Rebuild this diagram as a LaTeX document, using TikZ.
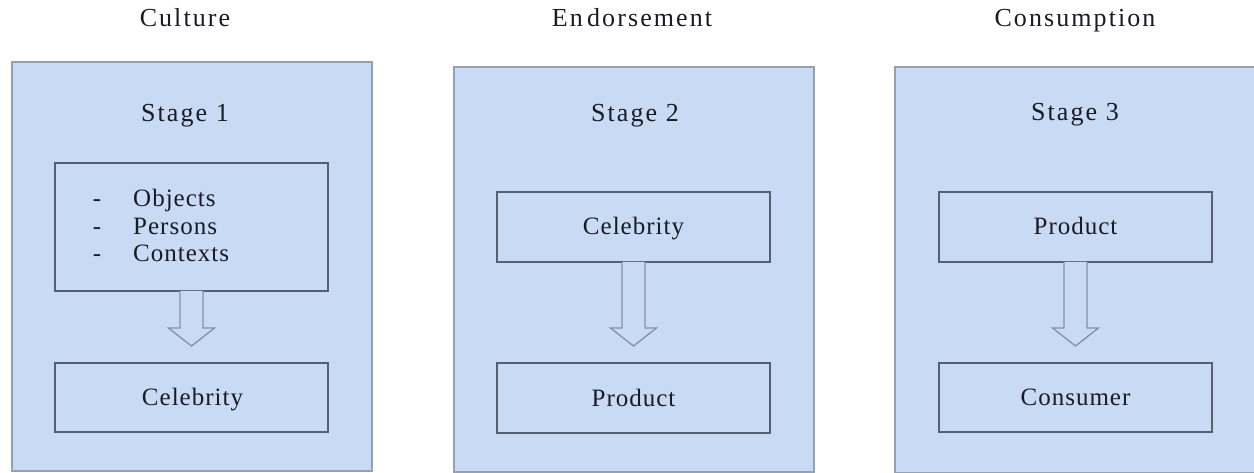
\documentclass[tikz,border=0pt]{standalone}
\usepackage{fontspec}
\setmainfont{Liberation Serif}[LetterSpace=4]
\usetikzlibrary{calc}
\definecolor{panelfill}{RGB}{201,218,245}
\definecolor{panelline}{RGB}{150,160,175}
\definecolor{boxline}{RGB}{85,96,115}
\definecolor{arrowline}{RGB}{130,145,170}
\definecolor{ink}{RGB}{25,28,38}
\begin{document}
\begin{tikzpicture}[x=1pt,y=-1pt,
  txt/.style={text=ink,font=\fontsize{25}{30}\selectfont,inner sep=0pt,anchor=base},
  title/.style={text=ink,font=\fontsize{26}{30}\selectfont\addfontfeatures{LetterSpace=8},inner sep=0pt,anchor=base},
  panel/.style={draw=panelline,line width=1.3pt,fill=panelfill,inner sep=0pt,outer sep=0pt,anchor=north west},
  stagebox/.style={draw=boxline,line width=1.3pt,fill=panelfill,inner sep=0pt,outer sep=0pt,anchor=north west,minimum width=273pt},
  blockarrow/.style={draw=arrowline,line width=1.3pt,fill=panelfill,line join=miter}
]
\useasboundingbox (0,0) rectangle (1254,473);
\fill[white] (0,0) rectangle (1254,473);

% titles
\node[title] (t1) at (185,27) {Culture};
\node[title] (t2) at (632,27) {En\,dorsement};
\node[title] (t3) at (1075,27) {Consumption};

% panels
\node[panel,minimum width=360pt,minimum height=409pt] (p1) at (12,62) {};
\node[panel,minimum width=360pt,minimum height=405pt] (p2) at (454,67) {};
\node[panel,minimum width=372pt,minimum height=406pt] (p3) at (895,67) {};

\node[title] (s1) at (185,122) {Stage 1};
\node[title] (s2) at (635,122) {Stage 2};
\node[title] (s3) at (1075,121) {Stage 3};

% stage 1
\node[stagebox,minimum height=128pt] (a1) at (55,163) {};
\node[txt] (d1) at (97,207) {-};
\node[txt] (d2) at (97,235) {-};
\node[txt] (d3) at (97,262) {-};
\node[txt,anchor=base west] (l1) at (133,207) {Objects};
\node[txt,anchor=base west] (l2) at (133,235) {Persons};
\node[txt,anchor=base west] (l3) at (133,262) {Contexts};
\node[stagebox,minimum height=69pt] (b1) at (55,363) {};
\node[txt] (b1t) at ($(b1.center)+(1,8)$) {Celebrity};

% stage 2
\node[stagebox,minimum height=70pt] (a2) at (497,192) {};
\node[txt] (a2t) at ($(a2.center)+(0,8)$) {Celebrity};
\node[stagebox,minimum height=70pt] (b2) at (497,363) {};
\node[txt] (b2t) at ($(b2.center)+(0,8)$) {Product};

% stage 3
\node[stagebox,minimum height=70pt] (a3) at (939,192) {};
\node[txt] (a3t) at ($(a3.center)+(0,8)$) {Product};
\node[stagebox,minimum height=69pt] (b3) at (939,363) {};
\node[txt] (b3t) at ($(b3.center)+(0,8)$) {Consumer};

% block arrows
\foreach \u/\v in {a1/b1,a2/b2,a3/b3}{
  \draw[blockarrow]
    ($(\u.south)+(-11.5,0)$) -- ($(\v.north)+(-11.5,-35)$) -- ($(\v.north)+(-23,-35)$)
    -- ($(\v.north)+(0,-17)$) -- ($(\v.north)+(23,-35)$) -- ($(\v.north)+(11.5,-35)$)
    -- ($(\u.south)+(11.5,0)$);
}
\end{tikzpicture}
\end{document}
